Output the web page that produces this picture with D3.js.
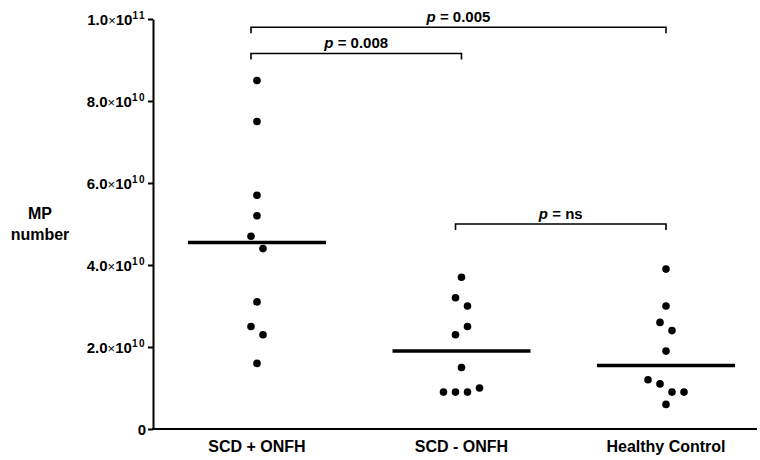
<!DOCTYPE html>
<html><head><meta charset="utf-8">
<script src="https://cdn.jsdelivr.net/npm/d3@7/dist/d3.min.js"></script>
<style>
body{margin:0;background:#fff;}
text{font-family:"Liberation Sans",Arial,sans-serif;font-weight:bold;fill:#000;}
</style></head>
<body><svg id="chart" width="760" height="460"></svg>
<script>
const categories = ["SCD + ONFH", "SCD - ONFH", "Healthy Control"];
const scdPlusOnfh = [8.5e10, 7.5e10, 5.7e10, 5.2e10, 4.7e10, 4.4e10, 3.1e10, 2.5e10, 2.3e10, 1.6e10];
const scdMinusOnfh = [3.7e10, 3.2e10, 3.0e10, 2.3e10, 2.5e10, 1.5e10, 0.9e10, 0.9e10, 0.9e10, 1.0e10];
const healthyControl = [3.9e10, 3.0e10, 2.6e10, 2.4e10, 1.9e10, 1.2e10, 1.1e10, 0.9e10, 0.9e10, 0.6e10];
const yTicks = [0, 2e10, 4e10, 6e10, 8e10, 1e11];
const yTitle = ["MP", "number"];
const comparisons = [
  {a: "SCD + ONFH", b: "SCD - ONFH", label: "0.008", level: 9.16e10},
  {a: "SCD + ONFH", b: "Healthy Control", label: "0.005", level: 9.8e10},
  {a: "SCD - ONFH", b: "Healthy Control", label: "ns", level: 5.0e10}
];
const groups = [scdPlusOnfh, scdMinusOnfh, healthyControl];

const svg = d3.select("#chart");
const y = d3.scaleLinear().domain([0, 1e11]).range([429, 19]);
const x = d3.scalePoint().domain(categories).range([257, 666]);
const axisX = 153, axisRight = 757;

// Y axis
const yAxis = svg.append("g").attr("transform", `translate(${axisX},0)`)
  .call(d3.axisLeft(y).tickValues(yTicks).tickSize(5).tickSizeOuter(0).tickFormat(""));
yAxis.select(".domain").attr("stroke", "#000").attr("stroke-width", 2);
yAxis.selectAll(".tick line").attr("stroke", "#000").attr("stroke-width", 2);
yAxis.selectAll(".tick").each(function(v) {
  const t = d3.select(this).append("text").attr("x", -7).attr("dy", "0.36em")
    .attr("text-anchor", "end").style("font-size", "15px");
  if (v === 0) { t.text("0"); return; }
  const exp = Math.floor(Math.log10(v));
  const mant = (v / Math.pow(10, exp)).toFixed(1);
  t.append("tspan").text(mant);
  t.append("tspan").text("×").style("font-weight", "normal").style("font-size", "13px");
  t.append("tspan").text("10");
  t.append("tspan").text(String(exp)).style("font-size", "10px").attr("dy", "-0.6em").style("letter-spacing", "1.5px");
});

// X axis line
svg.append("line").attr("x1", axisX - 1).attr("x2", axisRight)
  .attr("y1", y(0)).attr("y2", y(0)).attr("stroke", "#000").attr("stroke-width", 2);
svg.selectAll(".xlab").data(categories).enter().append("text")
  .attr("x", d => x(d)).attr("y", y(0) + 23).attr("text-anchor", "middle")
  .style("font-size", "16px").text(d => d);

// Y title
svg.selectAll(".ytitle").data(yTitle).enter().append("text")
  .attr("x", 40).attr("y", (d, i) => 219 + i * 21).attr("text-anchor", "middle")
  .style("font-size", "16px").text(d => d);

// Dots with simple cluster dodge
const step = 12, thresh = 14, maxCluster = 4, r = 3.8;
groups.forEach((vals, gi) => {
  const cat = categories[gi];
  const idx = vals.map((v, i) => i).sort((a, b) => vals[b] - vals[a] || a - b);
  const clusters = [];
  let cur = [];
  idx.forEach(i => {
    if (cur.length && (Math.abs(y(vals[i]) - y(vals[cur[cur.length - 1]])) >= thresh || cur.length >= maxCluster)) {
      clusters.push(cur); cur = [];
    }
    cur.push(i);
  });
  if (cur.length) clusters.push(cur);
  const offs = new Array(vals.length).fill(0);
  clusters.forEach(c => {
    const ordered = c.slice().sort((a, b) => a - b);
    ordered.forEach((i, k) => { offs[i] = (k - (ordered.length - 1) / 2) * step; });
  });
  svg.append("g").selectAll("circle").data(vals).enter().append("circle")
    .attr("cx", (d, i) => x(cat) + offs[i]).attr("cy", d => y(d)).attr("r", r).attr("fill", "#000");
  const med = d3.median(vals);
  svg.append("line").attr("x1", x(cat) - 69).attr("x2", x(cat) + 69)
    .attr("y1", y(med)).attr("y2", y(med)).attr("stroke", "#000").attr("stroke-width", 3.5);
});

// Comparison brackets
comparisons.forEach(c => {
  const x1 = x(c.a) - 6, x2 = x(c.b), yy = y(c.level);
  svg.append("path").attr("d", `M${x1},${yy + 6}V${yy}H${x2}V${yy + 6}`)
    .attr("fill", "none").attr("stroke", "#000").attr("stroke-width", 1.6);
  const t = svg.append("text").attr("x", (x1 + x2) / 2).attr("y", yy - 5)
    .attr("text-anchor", "middle").style("font-size", "15px");
  t.append("tspan").text("p").style("font-style", "italic");
  t.append("tspan").text(" = " + c.label);
});
</script></body></html>
